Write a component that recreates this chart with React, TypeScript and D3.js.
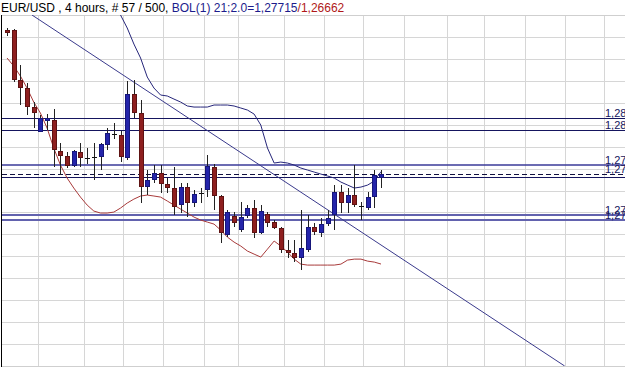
import React from 'react';
import * as d3 from 'd3';

// EUR/USD 4h, 57 bars
const opens = [1.29329, 1.29329, 1.28759, 1.28668, 1.28451, 1.28166, 1.28292, 1.28303, 1.2795, 1.27893, 1.27779, 1.27938, 1.2787, 1.2787, 1.27881, 1.28018, 1.28143, 1.28132, 1.2787, 1.28599, 1.28383, 1.27539, 1.27619, 1.27699, 1.27573, 1.27528, 1.27334, 1.27539, 1.27357, 1.27471, 1.27505, 1.27767, 1.27437, 1.26992, 1.27209, 1.27049, 1.27209, 1.273, 1.27015, 1.27231, 1.2714, 1.27072, 1.26821, 1.26787, 1.2673, 1.26821, 1.27083, 1.27015, 1.27117, 1.2722, 1.27482, 1.27357, 1.27448, 1.27323, 1.273, 1.27425, 1.27642];
const highs = [1.29352, 1.2934, 1.2893, 1.28725, 1.28508, 1.2836, 1.28371, 1.28428, 1.28041, 1.27938, 1.27961, 1.28041, 1.27984, 1.28041, 1.28041, 1.28212, 1.28269, 1.28178, 1.28748, 1.28759, 1.28531, 1.27733, 1.2779, 1.2779, 1.27642, 1.27767, 1.27585, 1.27585, 1.27505, 1.27528, 1.27904, 1.27801, 1.27448, 1.27277, 1.27254, 1.27368, 1.27334, 1.27391, 1.27334, 1.27254, 1.27163, 1.27083, 1.26935, 1.26935, 1.27277, 1.2722, 1.27129, 1.27186, 1.27277, 1.27562, 1.27562, 1.27528, 1.2779, 1.27368, 1.27482, 1.27733, 1.27733];
const lows = [1.29261, 1.28736, 1.28474, 1.2836, 1.28212, 1.28166, 1.28189, 1.27767, 1.27676, 1.27756, 1.27767, 1.27767, 1.27801, 1.27619, 1.27733, 1.27961, 1.28086, 1.27824, 1.27847, 1.28326, 1.27357, 1.27448, 1.27585, 1.27471, 1.27471, 1.2722, 1.27243, 1.27197, 1.27311, 1.27357, 1.27425, 1.27277, 1.26901, 1.26969, 1.27083, 1.27026, 1.27186, 1.26958, 1.27003, 1.27083, 1.27061, 1.26787, 1.2673, 1.26684, 1.26593, 1.26798, 1.26992, 1.26969, 1.27095, 1.27049, 1.27243, 1.27243, 1.27311, 1.27163, 1.27277, 1.273, 1.27528];
const closes = [1.29295, 1.28759, 1.28668, 1.28451, 1.28383, 1.28326, 1.28326, 1.27961, 1.27893, 1.27779, 1.2795, 1.2787, 1.27868, 1.27881, 1.28029, 1.28155, 1.28141, 1.27881, 1.28599, 1.28383, 1.27539, 1.27619, 1.27699, 1.27573, 1.27528, 1.27311, 1.27539, 1.27357, 1.27459, 1.27469, 1.27779, 1.27437, 1.27015, 1.27254, 1.27129, 1.27197, 1.273, 1.27015, 1.27266, 1.27129, 1.27072, 1.26821, 1.26787, 1.2673, 1.26844, 1.27083, 1.27026, 1.27117, 1.27186, 1.27482, 1.27357, 1.27448, 1.27334, 1.2732, 1.27425, 1.27676, 1.27687];

// Bollinger(21, 2.0) – upper band starts at bar 16 (earlier values are off the top)
const upperStart = 16;
const upperBand = [1.29728, 1.295, 1.29352, 1.29169, 1.2901, 1.28793, 1.28668, 1.28588, 1.28577, 1.28542, 1.28508, 1.28463, 1.28451, 1.28451, 1.28451, 1.28474, 1.28474, 1.28474, 1.28463, 1.2844, 1.28417, 1.28371, 1.28246, 1.27984, 1.27813, 1.27824, 1.27813, 1.2779, 1.27756, 1.27733, 1.2771, 1.27687, 1.27665, 1.27642, 1.27596, 1.27562, 1.27528, 1.27539, 1.27562, 1.27608, 1.27715];
const lowerBand = [1.2901, 1.28919, 1.28805, 1.28668, 1.28508, 1.28383, 1.28212, 1.27984, 1.2779, 1.27642, 1.27528, 1.27425, 1.27334, 1.27266, 1.27243, 1.27243, 1.27254, 1.273, 1.27357, 1.27402, 1.27437, 1.27448, 1.27437, 1.27425, 1.2738, 1.27334, 1.27288, 1.27243, 1.27197, 1.27163, 1.2714, 1.27117, 1.27049, 1.26969, 1.26912, 1.26867, 1.2681, 1.26775, 1.26741, 1.26832, 1.26924, 1.26867, 1.26798, 1.26718, 1.26661, 1.2665, 1.2665, 1.2665, 1.2665, 1.2665, 1.26661, 1.26707, 1.26718, 1.26718, 1.26695, 1.26684, 1.26662];

// horizontal levels drawn on the chart
const levelPrices = [1.28326, 1.28189, 1.27796, 1.27684, 1.27653, 1.27226, 1.27163];
const levelKinds = ['dark', 'dark', 'mid', 'dash', 'dark', 'light', 'light'];
const levelLabelled = [true, true, true, true, false, true, true];

// trend line anchors (bar index, price)
const trendIdx = [3.74, 83.5];
const trendPrice = [1.295, 1.255];

// grid
const gridPrices = [1.2925, 1.29, 1.2875, 1.285, 1.2825, 1.28, 1.2775, 1.275, 1.2725, 1.27, 1.2675, 1.265, 1.2625, 1.26, 1.2575];
const gridIdx = [4.6, 11.5, 17.4, 23.4, 29.5, 34.6, 41.5, 47.5, 53.3, 59.4, 65.9, 71.4, 77.5, 83.5, 89.4];

const W = 625;
const H = 367;
const top = 15;
const bottom = 366;
const font = '"Liberation Sans", Arial, sans-serif';

const fmt = (p: number) => p.toFixed(5).replace('.', ',');

export default function App() {
  const x = d3.scaleLinear().domain([0, 56]).range([7, 381]);
  const y = d3.scaleLinear().domain([1.255, 1.295]).range([bottom, top]);
  const snap = (v: number) => Math.round(v) + 0.5;

  const upperLine = d3
    .line<number>()
    .x((d, i) => x(i + upperStart))
    .y((d) => y(d));
  const lowerLine = d3
    .line<number>()
    .x((d, i) => x(i))
    .y((d) => y(d));

  const levelStyle: Record<string, { stroke: string; width: number; dash?: string }> = {
    dark: { stroke: '#15155e', width: 1 },
    mid: { stroke: '#3a3a98', width: 1.5 },
    dash: { stroke: '#101040', width: 1, dash: '5,3' },
    light: { stroke: '#6262ae', width: 2 },
  };

  return (
    <svg width={W} height={H} style={{ position: 'absolute', left: 0, top: 0, background: '#fff' }}>
      <defs>
        <clipPath id="plot">
          <rect x={1} y={top} width={W} height={bottom - top} />
        </clipPath>
      </defs>
      <rect width={W} height={H} fill="#fff" />

      {/* grid */}
      {gridPrices.map((p) => (
        <line key={'gy' + p} x1={2} x2={W} y1={snap(y(p))} y2={snap(y(p))} stroke="#d6d6d6" />
      ))}
      {gridIdx.map((g) => (
        <line key={'gx' + g} x1={snap(x(g))} x2={snap(x(g))} y1={top} y2={bottom} stroke="#d6d6d6" />
      ))}
      <line x1={1} x2={W} y1={top + 0.5} y2={top + 0.5} stroke="#cfcfcf" />
      <line x1={1} x2={W} y1={bottom + 0.5} y2={bottom + 0.5} stroke="#cfcfcf" />
      <line x1={1.5} x2={1.5} y1={top} y2={H} stroke="#000" />

      <g clipPath="url(#plot)">
        {/* horizontal levels */}
        {levelPrices.map((p, i) => {
          const s = levelStyle[levelKinds[i]];
          const yy = s.width === 1 ? snap(y(p)) : Math.round(y(p));
          return (
            <line key={'lv' + i} x1={2} x2={W} y1={yy} y2={yy} stroke={s.stroke} strokeWidth={s.width} strokeDasharray={s.dash} />
          );
        })}

        {/* trend line */}
        <line
          x1={x(trendIdx[0])}
          y1={y(trendPrice[0])}
          x2={x(trendIdx[1])}
          y2={y(trendPrice[1])}
          stroke="#3a3a8c"
          strokeWidth={1}
        />

        {/* bollinger bands */}
        <path d={upperLine(upperBand) || ''} fill="none" stroke="#26267a" strokeWidth={1} />
        <path d={lowerLine(lowerBand) || ''} fill="none" stroke="#a83a3a" strokeWidth={1} />

        {/* candles */}
        {opens.map((o, i) => {
          const c = closes[i];
          const cx = Math.round(x(i));
          const yo = y(o);
          const yc = y(c);
          const bTop = Math.round(Math.min(yo, yc));
          const bH = Math.max(1, Math.round(Math.abs(yo - yc)));
          const up = c > o;
          const doji = Math.abs(yo - yc) < 1.5;
          const fill = doji ? '#111' : up ? '#2424aa' : '#8e1f1f';
          const stroke = doji ? '#111' : up ? '#16167a' : '#5e1212';
          return (
            <g key={'c' + i}>
              <line x1={cx + 0.5} x2={cx + 0.5} y1={Math.round(y(highs[i]))} y2={Math.round(y(lows[i]))} stroke="#222" />
              {doji ? (
                <rect x={cx - 2} y={bTop} width={5} height={bH} fill={fill} />
              ) : (
                <rect x={cx - 1.5} y={bTop + 0.5} width={4} height={bH - 1 > 0 ? bH - 1 : 1} fill={fill} stroke={stroke} strokeWidth={1} />
              )}
            </g>
          );
        })}
      </g>

      {/* level labels */}
      {levelPrices.map((p, i) =>
        levelLabelled[i] ? (
          <text key={'lb' + i} x={605} y={Math.round(y(p)) - 1} fontFamily={font} fontSize={11} fill="#15155e">
            {fmt(p)}
          </text>
        ) : null
      )}

      {/* title */}
      <text x={1} y={12} fontFamily={font} fontSize={12}>
        <tspan fill="#000">EUR/USD , 4 hours, # 57 / 500, </tspan>
        <tspan fill="#1c1c8c">BOL(1) 21;2.0={fmt(upperBand[upperBand.length - 1])}</tspan>
        <tspan fill="#b01818">/{fmt(lowerBand[lowerBand.length - 1])}</tspan>
      </text>
    </svg>
  );
}
